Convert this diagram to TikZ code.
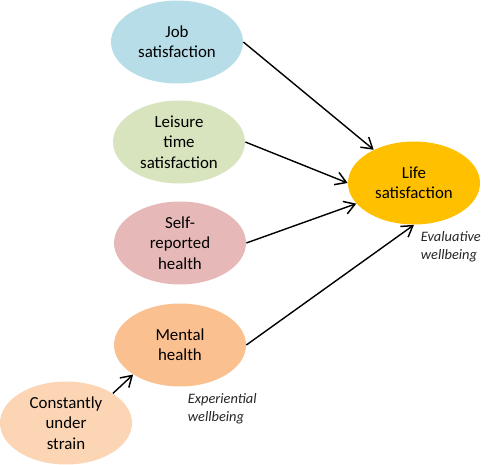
\documentclass[tikz,border=0pt]{standalone}
\usepackage{fontspec}
\setmainfont{Carlito}
\usetikzlibrary{arrows.meta,shapes.geometric}
\definecolor{jobblue}{RGB}{183,222,232}
\definecolor{leisgreen}{RGB}{215,228,189}
\definecolor{selfpink}{RGB}{230,185,184}
\definecolor{mentorange}{RGB}{250,192,144}
\definecolor{strainpeach}{RGB}{252,213,181}
\definecolor{lifegold}{RGB}{255,192,0}
\begin{document}
\begin{tikzpicture}[
        bubble/.style={ellipse, minimum width=2.64cm, minimum height=1.66cm, inner sep=0pt,
            align=center, font=\fontsize{9.6}{11.6}\selectfont, text=black},
        link/.style={-{Straight Barb[length=6pt,width=7.5pt,line width=0.85pt]}, line width=0.8pt},
        note/.style={anchor=north west, align=left, inner sep=0pt,
            font=\fontsize{8.2}{9.8}\selectfont\itshape, text=black!85}
    ]
            \useasboundingbox (0,0) rectangle (9.92,-9.3);

            \node (job) at (3.54,-0.84) [bubble, fill=jobblue] {Job\\satisfaction};
            \node (leis) at (3.58,-2.84) [bubble, fill=leisgreen] {Leisure\\time\\satisfaction};
            \node (self) at (3.6,-4.86) [bubble, fill=selfpink] {Self-\\reported\\health};
            \node (ment) at (3.6,-6.9) [bubble, fill=mentorange] {Mental\\health};
            \node (strain) at (1.32,-8.46) [bubble, fill=strainpeach] {Constantly\\under\\strain};
            \node (life) at (8.28,-3.66) [bubble, fill=lifegold] {Life\\satisfaction};

            \draw[link] (job.east) -- (life);
            \draw[link] (leis.east) -- (life.west);
            \draw[link] (self.east) -- (life);
            \draw[link] (ment.east) -- (life.south);
            \draw[link] (strain.north east) -- (ment.south west);

            \node (eval) at (8.41,-4.63) [note] {Evaluative\\wellbeing};
            \node (expe) at (3.75,-7.87) [note] {Experiential\\wellbeing};
        \end{tikzpicture}
\end{document}
